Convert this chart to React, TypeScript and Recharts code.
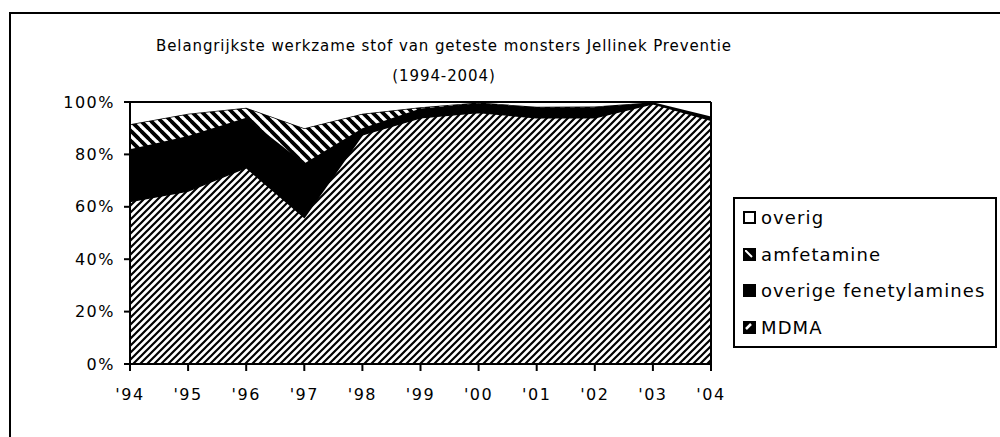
import React from 'react';
import { AreaChart, Area, XAxis, YAxis, ReferenceLine } from 'recharts';

const years = ["'94", "'95", "'96", "'97", "'98", "'99", "'00", "'01", "'02", "'03", "'04"];
const mdma = [62, 66, 75, 56, 87.5, 94, 96, 94, 94, 99.3, 93];
const fenetylamines = [20, 21, 19, 20.5, 2.5, 3.5, 3.5, 4, 4, 0.5, 1.5];
const amfetamine = [9.5, 8.5, 3.8, 13.5, 5.5, 0.5, 0.3, 0.2, 0.3, 0.1, 0];
const overig = [8.5, 4.5, 2.2, 10, 4.5, 2, 0.2, 1.8, 1.7, 0.1, 5.5];
const yTicks = [0, 20, 40, 60, 80, 100];

const data = years.map((year, i) => ({
  year,
  MDMA: mdma[i],
  fenetylamines: fenetylamines[i],
  amfetamine: amfetamine[i],
  overig: overig[i],
}));

const font = '"DejaVu Sans", Verdana, sans-serif';

const legendItems = [
  { label: 'overig', fill: '#fff' },
  { label: 'amfetamine', fill: 'url(#amfSwatch)' },
  { label: 'overige fenetylamines', fill: '#000' },
  { label: 'MDMA', fill: 'url(#mdmaSwatch)' },
];

const LegendBox = () => (
  <div
    style={{
      position: 'absolute',
      left: 733,
      top: 197,
      width: 260,
      height: 147,
      border: '2px solid #000',
      background: '#fff',
      fontFamily: font,
      fontSize: 18,
      letterSpacing: 1.1,
      color: '#000',
    }}
  >
    {legendItems.map((item, i) => (
      <div
        key={item.label}
        style={{ position: 'absolute', left: 8, top: 6.5 + i * 36.5, height: 24, display: 'flex', alignItems: 'center' }}
      >
        <svg width={13} height={13} style={{ marginRight: 5 }}>
          <rect x={1} y={1} width={11} height={11} fill={item.fill} stroke="#000" strokeWidth={2} />
        </svg>
        <span>{item.label}</span>
      </div>
    ))}
  </div>
);

const tickStyle = { fill: '#000', fontSize: 16, fontFamily: font, letterSpacing: 1.5 };

const App = () => {
  return (
    <div style={{ position: 'absolute', left: 0, top: 0, width: 1000, height: 437, background: '#fff', overflow: 'hidden' }}>
      <div style={{ position: 'absolute', left: 9, top: 12, width: 1000, height: 500, borderLeft: '2px solid #000', borderTop: '2px solid #000' }} />
      <div style={{ position: 'absolute', left: 94, width: 700, top: 31, textAlign: 'center', fontFamily: font, fontSize: 15, letterSpacing: 0.9, lineHeight: '30px', color: '#000' }}>
        <div>Belangrijkste werkzame stof van geteste monsters Jellinek Preventie</div>
        <div>(1994-2004)</div>
      </div>
      <div style={{ position: 'absolute', left: 0, top: 0 }}>
        <AreaChart width={1000} height={437} data={data} margin={{ top: 102, right: 289, bottom: 33, left: 70 }}>
          <defs>
            <pattern id="mdmaHatch" patternUnits="userSpaceOnUse" width={7} height={7}>
              <rect width={7} height={7} fill="#fff" />
              <path d="M-1,1 l2,-2 M0,7 l7,-7 M6,8 l2,-2" stroke="#000" strokeWidth={2.2} />
            </pattern>
            <pattern id="amfHatch" patternUnits="userSpaceOnUse" width={10} height={10}>
              <rect width={10} height={10} fill="#fff" />
              <path d="M-1,-1 l12,12 M-1,9 l2,2 M9,-1 l2,2" stroke="#000" strokeWidth={3.8} />
            </pattern>
          </defs>
          <XAxis
            dataKey="year"
            tickLine={{ stroke: '#000', strokeWidth: 2 }}
            axisLine={{ stroke: '#000', strokeWidth: 2 }}
            tickSize={7}
            tickMargin={18}
            height={40}
            interval={0}
            tick={tickStyle}
          />
          <YAxis
            type="number"
            domain={[0, 100]}
            ticks={yTicks}
            tickFormatter={(v) => `${v}%`}
            tickLine={{ stroke: '#000', strokeWidth: 2 }}
            axisLine={{ stroke: '#000', strokeWidth: 2 }}
            tickSize={6}
            tickMargin={9}
            width={60}
            tick={tickStyle}
          />
          <Area type="linear" dataKey="MDMA" stackId="a" fill="url(#mdmaHatch)" fillOpacity={1} stroke="#000" strokeWidth={1.5} isAnimationActive={false} />
          <Area type="linear" dataKey="fenetylamines" stackId="a" fill="#000" fillOpacity={1} stroke="#000" strokeWidth={1.5} isAnimationActive={false} />
          <Area type="linear" dataKey="amfetamine" stackId="a" fill="url(#amfHatch)" fillOpacity={1} stroke="#000" strokeWidth={1.5} isAnimationActive={false} />
          <Area type="linear" dataKey="overig" stackId="a" fill="#fff" fillOpacity={1} stroke="#000" strokeWidth={2} isAnimationActive={false} />
          <ReferenceLine x="'04" stroke="#000" strokeWidth={2} />
          <ReferenceLine y={100} stroke="#000" strokeWidth={2} />
        </AreaChart>
      </div>
      <svg width={0} height={0} style={{ position: 'absolute' }}>
        <defs>
          <pattern id="amfSwatch" patternUnits="userSpaceOnUse" width={11} height={11}>
            <rect width={11} height={11} fill="#000" />
            <path d="M2,2 L9,9" stroke="#fff" strokeWidth={2} />
          </pattern>
          <pattern id="mdmaSwatch" patternUnits="userSpaceOnUse" width={11} height={11}>
            <rect width={11} height={11} fill="#000" />
            <path d="M3,8 L8,3" stroke="#fff" strokeWidth={2.5} />
          </pattern>
        </defs>
      </svg>
      <LegendBox />
    </div>
  );
};

export default App;
